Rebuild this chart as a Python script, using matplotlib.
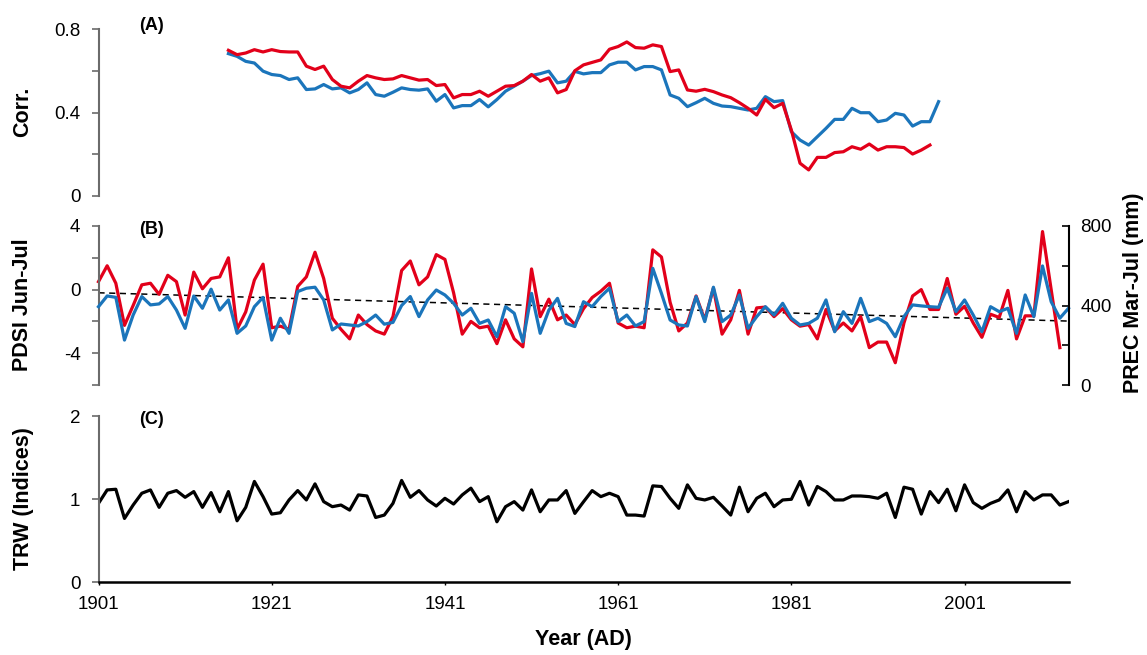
import numpy as np
import matplotlib.pyplot as plt

plt.rcParams['font.family'] = ['Liberation Sans', 'DejaVu Sans']
plt.rcParams['axes.unicode_minus'] = False

# (A) running correlations
corr_years_red = np.arange(1916, 1998)
corr_red = [0.698, 0.677, 0.685, 0.701, 0.69, 0.701, 0.692, 0.69, 0.69, 0.622,
            0.606, 0.622, 0.558, 0.526, 0.518, 0.55, 0.577, 0.566, 0.558, 0.561,
            0.577, 0.566, 0.555, 0.558, 0.529, 0.534, 0.47, 0.486, 0.486, 0.502,
            0.478, 0.502, 0.526, 0.529, 0.55, 0.582, 0.55, 0.566, 0.494, 0.51,
            0.60, 0.628, 0.64, 0.652, 0.703, 0.716, 0.738, 0.711, 0.708, 0.724,
            0.716, 0.596, 0.604, 0.508, 0.502, 0.511, 0.5, 0.484, 0.471, 0.447,
            0.42, 0.388, 0.463, 0.423, 0.444, 0.316, 0.157, 0.125, 0.185, 0.185,
            0.208, 0.212, 0.236, 0.224, 0.249, 0.22, 0.236, 0.236, 0.232, 0.201,
            0.22, 0.244]
corr_years_blue = np.arange(1916, 1999)
corr_blue = [0.682, 0.669, 0.645, 0.637, 0.598, 0.582, 0.577, 0.558, 0.566, 0.51,
             0.513, 0.534, 0.513, 0.518, 0.494, 0.51, 0.542, 0.486, 0.478, 0.497,
             0.518, 0.51, 0.507, 0.513, 0.454, 0.486, 0.422, 0.433, 0.433, 0.462,
             0.427, 0.462, 0.502, 0.526, 0.55, 0.577, 0.586, 0.598, 0.542, 0.55,
             0.597, 0.585, 0.591, 0.591, 0.628, 0.641, 0.641, 0.604, 0.62, 0.62,
             0.604, 0.484, 0.468, 0.428, 0.447, 0.468, 0.444, 0.431, 0.428, 0.42,
             0.412, 0.42, 0.476, 0.452, 0.457, 0.308, 0.268, 0.244, 0.284, 0.324,
             0.367, 0.367, 0.42, 0.399, 0.399, 0.356, 0.364, 0.396, 0.388, 0.335,
             0.356, 0.356, 0.452]

# (B) PDSI Jun-Jul (left) and PREC Mar-Jul (right)
pdsi_years = np.arange(1901, 2013)
pdsi = [0.5, 1.5, 0.4, -2.25, -1.0, 0.3, 0.4, -0.3, 0.9, 0.5,
        -1.6, 1.1, 0.05, 0.7, 0.8, 2.0, -2.5, -1.4, 0.6, 1.6,
        -2.4, -2.3, -2.5, 0.2, 0.8, 2.35, 0.7, -1.8, -2.5, -3.1,
        -1.6, -2.2, -2.6, -2.8, -1.7, 1.2, 1.8, 0.3, 0.8, 2.2,
        1.9, -0.2, -2.8, -2.0, -2.4, -2.3, -3.4, -1.9, -3.1, -3.6,
        1.3, -1.7, -0.6, -1.9, -1.6, -2.2, -1.2, -0.5, -0.1, 0.4,
        -2.1, -2.4, -2.3, -2.4, 2.5, 2.05, -0.8, -2.6, -2.1, -0.4,
        -1.9, 0.1, -2.8, -1.9, -0.05, -2.8, -1.15, -1.1, -1.7, -1.2,
        -1.9, -2.3, -2.2, -3.1, -1.25, -2.6, -2.1, -2.6, -1.7, -3.65,
        -3.3, -3.3, -4.6, -2.1, -0.4, 0.0, -1.25, -1.25, 0.7, -1.55,
        -1.05, -2.1, -3.0, -1.55, -1.75, -0.05, -3.1, -1.65, -1.65, 3.65,
        0.0, -3.65]
prec_years = np.arange(1901, 2014)
prec = [394, 448, 441, 226, 352, 445, 403, 408, 445, 377,
        285, 448, 386, 482, 377, 428, 260, 297, 394, 441,
        226, 336, 260, 470, 487, 492, 428, 277, 307, 302,
        297, 319, 352, 306, 315, 400, 445, 344, 428, 478,
        453, 411, 352, 386, 310, 327, 243, 394, 361, 218,
        461, 260, 377, 436, 310, 294, 419, 394, 445, 487,
        319, 352, 297, 319, 587, 461, 327, 302, 297, 445,
        319, 492, 319, 352, 453, 285, 344, 394, 352, 411,
        336, 302, 310, 336, 428, 268, 369, 310, 436, 319,
        336, 310, 243, 344, 403, 398, 394, 391, 487, 369,
        428, 352, 268, 394, 369, 386, 260, 453, 344, 599,
        419, 336, 386]
trend_years = [1901, 2013]
trend_pdsi = [-0.2, -1.98]

# (C) tree-ring width index
trw_years = np.arange(1901, 2014)
trw = [0.951, 1.113, 1.121, 0.769, 0.931, 1.073, 1.113, 0.903, 1.073, 1.105,
       1.024, 1.093, 0.903, 1.081, 0.85, 1.093, 0.741, 0.903, 1.215, 1.032,
       0.822, 0.838, 0.992, 1.105, 0.992, 1.186, 0.972, 0.911, 0.931, 0.87,
       1.053, 1.04, 0.781, 0.81, 0.951, 1.227, 1.024, 1.105, 0.992, 0.919,
       1.012, 0.943, 1.053, 1.134, 0.972, 1.032, 0.729, 0.911, 0.972, 0.87,
       1.113, 0.85, 0.992, 0.992, 1.105, 0.83, 0.97, 1.105, 1.032, 1.073,
       1.032, 0.81, 0.81, 0.798, 1.162, 1.154, 1.012, 0.891, 1.174, 1.012,
       0.992, 1.024, 0.919, 0.81, 1.146, 0.85, 1.012, 1.073, 0.911, 0.992,
       1.0, 1.215, 0.931, 1.154, 1.093, 0.992, 0.992, 1.04, 1.04, 1.032,
       1.012, 1.073, 0.781, 1.146, 1.121, 0.822, 1.093, 0.96, 1.121, 0.862,
       1.174, 0.96, 0.891, 0.951, 0.992, 1.113, 0.85, 1.093, 0.992, 1.053,
       1.053, 0.931, 0.972]

xticks = [1901, 1921, 1941, 1961, 1981, 2001]

RED = '#e2001a'
BLUE = '#1b75bb'
SPINE = '#6b6b6b'
W, H = 1147, 655
TICK_FS = 13.5


def box(top, bottom, left=98.5, right=1068.5):
    return [left / W, 1 - bottom / H, (right - left) / W, (bottom - top) / H]


def style_left(ax, major, minor, lim):
    for s in ['top', 'right', 'bottom']:
        ax.spines[s].set_visible(False)
    ax.spines['left'].set_color(SPINE)
    ax.spines['left'].set_linewidth(1.5)
    ax.set_ylim(*lim)
    ax.set_yticks(major)
    ax.set_yticks(minor, minor=True)
    ax.tick_params(axis='y', which='both', direction='out', length=5,
                   width=1.2, color=SPINE, pad=8, labelsize=TICK_FS)
    ax.set_xlim(1901, 2013)


fig = plt.figure(figsize=(11.47, 6.55), dpi=100)

# panel A
axA = fig.add_axes(box(29, 196))
axA.plot(corr_years_blue, corr_blue, color=BLUE, lw=2.3)
axA.plot(corr_years_red, corr_red, color=RED, lw=2.3)
style_left(axA, [0, 0.4, 0.8], [0.2, 0.6], (0, 0.8))
axA.set_yticklabels(['0', '0.4', '0.8'])
axA.set_xticks([])

# panel B
axB = fig.add_axes(box(226, 385))
axB.plot(trend_years, trend_pdsi, color='black', lw=1.1, ls=(0, (4, 3)))
axB.plot(pdsi_years, pdsi, color=RED, lw=2.3, clip_on=False)
style_left(axB, [-4, 0, 4], [-6, -2, 2], (-6, 4))
axB.set_xticks([])
axB2 = axB.twinx()
axB2.plot(prec_years, prec, color=BLUE, lw=2.3, clip_on=False)
for s in ['top', 'left', 'bottom']:
    axB2.spines[s].set_visible(False)
axB2.spines['right'].set_color('black')
axB2.spines['right'].set_linewidth(1.5)
axB2.set_ylim(0, 800)
axB2.set_yticks([0, 400, 800])
axB2.set_yticks([200, 600], minor=True)
axB2.tick_params(axis='y', which='both', direction='in', length=5,
                 width=1.2, pad=8.5, labelsize=TICK_FS)
axB2.set_xlim(1901, 2013)

# panel C
axC = fig.add_axes(box(416.3, 582.3))
axC.plot(trw_years, trw, color='black', lw=2.3)
style_left(axC, [0, 1, 2], [], (0, 2))
axC.spines['bottom'].set_visible(True)
axC.spines['bottom'].set_color('black')
axC.spines['bottom'].set_linewidth(1.8)
axC.set_xticks(xticks)
axC.tick_params(axis='x', direction='out', length=2, width=1, pad=8,
                labelsize=TICK_FS)

# panel letters
for txt, x, y in [('(A)', 152, 25), ('(B)', 152, 229), ('(C)', 151, 420)]:
    fig.text(x / W, 1 - y / H, txt, ha='center', va='center',
             fontsize=13, fontweight='bold')

# axis titles
lab = dict(rotation=90, ha='center', va='center', fontsize=15.5,
           fontweight='bold')
fig.text(23 / W, 1 - 112 / H, 'Corr.', **lab)
fig.text(23 / W, 1 - 305 / H, 'PDSI Jun-Jul', **lab)
fig.text(23 / W, 1 - 499 / H, 'TRW (Indices)', **lab)
fig.text(1133 / W, 1 - 293 / H, 'PREC Mar-Jul (mm)', **lab)
fig.text(583 / W, 1 - 640 / H, 'Year (AD)', ha='center', va='center',
         fontsize=15.5, fontweight='bold')

fig.savefig('out.png', dpi=100)
